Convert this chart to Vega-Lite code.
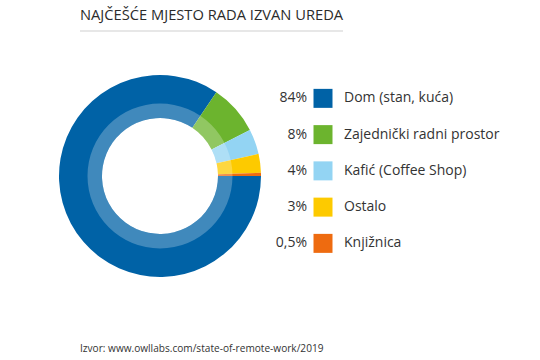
{
  "$schema": "https://vega.github.io/schema/vega-lite/v6.json",
  "background": "white",
  "padding": {"left": 59, "top": 7, "right": 0, "bottom": 0},
  "spacing": 0,
  "config": {"view": {"stroke": null}, "font": "Open Sans"},
  "datasets": {
    "mjesta": [
      {"kategorija": "Dom (stan, kuća)", "postotak": 84, "oznaka": "84%"},
      {"kategorija": "Zajednički radni prostor", "postotak": 8, "oznaka": "8%"},
      {"kategorija": "Kafić (Coffee Shop)", "postotak": 4, "oznaka": "4%"},
      {"kategorija": "Ostalo", "postotak": 3, "oznaka": "3%"},
      {"kategorija": "Knjižnica", "postotak": 0.5, "oznaka": "0,5%"}
    ]
  },
  "vconcat": [
    {
      "width": 300,
      "height": 44,
      "title": {"text": "NAJČEŠĆE MJESTO RADA IZVAN UREDA", "anchor": "start", "dx": 21, "fontSize": 14.7, "fontWeight": "normal", "color": "#2b2b2b", "offset": 8},
      "data": {"values": [{}]},
      "mark": {"type": "rule", "color": "#cfcfcf", "strokeWidth": 1},
      "encoding": {"x": {"value": 21}, "x2": {"value": 284}, "y": {"value": 0}}
    },
    {
      "hconcat": [
        {
          "width": 202,
          "height": 202,
          "data": {"name": "mjesta"},
          "layer": [
            {
              "mark": {"type": "arc", "innerRadius": 58, "outerRadius": 101},
              "encoding": {
                "theta": {"field": "postotak", "type": "quantitative", "stack": true, "scale": {"range": [1.5708, 7.854]}},
                "color": {"field": "kategorija", "type": "nominal", "legend": null,
                  "scale": {"domain": ["Dom (stan, kuća)", "Zajednički radni prostor", "Kafić (Coffee Shop)", "Ostalo", "Knjižnica"],
                            "range": ["#0062a6", "#6cb42e", "#93d4f3", "#fdca00", "#ee6b10"]}},
                "order": {"field": "postotak", "sort": "descending"}
              }
            },
            {
              "data": {"values": [{}]},
              "mark": {"type": "arc", "innerRadius": 58, "outerRadius": 72.5, "theta": 0, "theta2": 6.2832, "color": "white", "opacity": 0.25},
              "encoding": {}
            }
          ]
        },
        {
          "width": 240,
          "height": 202,
          "data": {"name": "mjesta"},
          "encoding": {
            "y": {"field": "kategorija", "type": "nominal", "axis": null,
                  "sort": {"field": "postotak", "order": "descending"},
                  "scale": {"padding": 0.786, "align": 0.41}}
          },
          "layer": [
            {
              "mark": {"type": "text", "align": "right", "baseline": "middle", "fontSize": 14, "color": "#333333"},
              "encoding": {"x": {"value": 46}, "text": {"field": "oznaka"}}
            },
            {
              "mark": {"type": "square", "size": 361, "opacity": 1, "filled": true},
              "encoding": {
                "x": {"value": 62},
                "color": {"field": "kategorija", "type": "nominal", "legend": null,
                  "scale": {"domain": ["Dom (stan, kuća)", "Zajednički radni prostor", "Kafić (Coffee Shop)", "Ostalo", "Knjižnica"],
                            "range": ["#0062a6", "#6cb42e", "#93d4f3", "#fdca00", "#ee6b10"]}}
              }
            },
            {
              "mark": {"type": "text", "align": "left", "baseline": "middle", "fontSize": 14, "color": "#333333"},
              "encoding": {"x": {"value": 83}, "text": {"field": "kategorija"}}
            }
          ]
        }
      ],
      "spacing": 0
    },
    {
      "width": 300,
      "height": 83,
      "data": {"values": [{"tekst": "Izvor: www.owllabs.com/state-of-remote-work/2019"}]},
      "mark": {"type": "text", "align": "left", "baseline": "middle", "fontSize": 10.1, "color": "#333333"},
      "encoding": {"text": {"field": "tekst"}, "x": {"value": 21}, "y": {"value": 72}}
    }
  ]
}
